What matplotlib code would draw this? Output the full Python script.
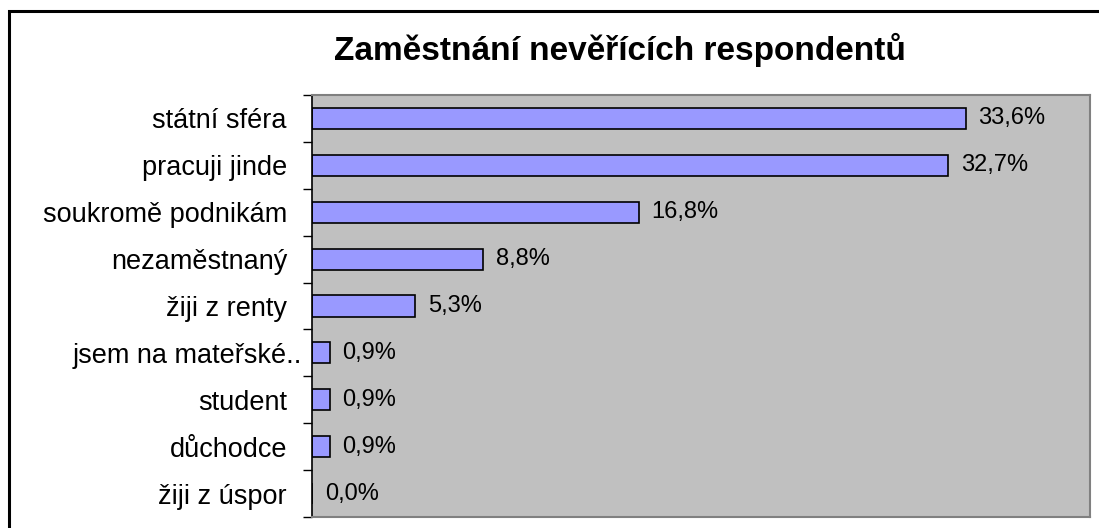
import matplotlib
matplotlib.use("Agg")
import matplotlib.pyplot as plt
import matplotlib.transforms as mtransforms
from matplotlib.patches import Rectangle

categories = ["státní sféra", "pracuji jinde", "soukromě podnikám", "nezaměstnaný",
              "žiji z renty", "jsem na mateřské..", "student", "důchodce", "žiji z úspor"]
values = [33.6, 32.7, 16.8, 8.8, 5.3, 0.9, 0.9, 0.9, 0.0]
value_labels = ["33,6%", "32,7%", "16,8%", "8,8%", "5,3%", "0,9%", "0,9%", "0,9%", "0,0%"]

plt.rcParams["font.family"] = ["Liberation Sans", "DejaVu Sans"]

W, H = 1099, 528
fig = plt.figure(figsize=(W / 100, H / 100), dpi=100)
fig.patch.set_facecolor("white")

# outer chart border (right and bottom fall outside the picture)
fig.patches.append(Rectangle((8.5 / W, -0.1), 1.2, (H - 11.5) / H + 0.1,
                             transform=fig.transFigure, fill=False,
                             edgecolor="black", linewidth=2.2))

ax = fig.add_axes([312 / W, (H - 517) / H, (1090 - 312) / W, (517 - 95) / H])
ax.set_facecolor("#C0C0C0")

n = len(categories)
ypos = list(range(n))
ax.barh(ypos, values, height=0.45, color="#9999FF", edgecolor="black", linewidth=1.2)

for y, v, lab in zip(ypos, values, value_labels):
    ax.text(v + 0.65, y, lab, va="center", ha="left", fontsize=17)

ax.set_xlim(0, 40)
ax.set_ylim(n - 0.5, -0.5)
ax.set_xticks([])
ax.set_yticks(ypos)
ax.set_yticklabels(categories, fontsize=19.5)
ax.tick_params(axis="y", which="major", length=0, pad=18)
ax.set_yticks([i - 0.5 for i in range(n + 1)], minor=True)
ax.tick_params(axis="y", which="minor", length=6.5, width=1, direction="out", color="black")

# the truncated label runs closer to the axis, as in the original
for t in ax.get_yticklabels():
    if t.get_text().endswith(".."):
        t.set_transform(t.get_transform() + mtransforms.ScaledTranslation(0.15, 0, fig.dpi_scale_trans))

for side in ["top", "right", "bottom"]:
    ax.spines[side].set_color("#808080")
    ax.spines[side].set_linewidth(1.5)
ax.spines["left"].set_color("black")
ax.spines["left"].set_linewidth(1.2)

fig.text(620 / W, (H - 50) / H, "Zaměstnání nevěřících respondentů",
         ha="center", va="center", fontsize=24, fontweight="bold")

fig.savefig("out.png", dpi=100)
